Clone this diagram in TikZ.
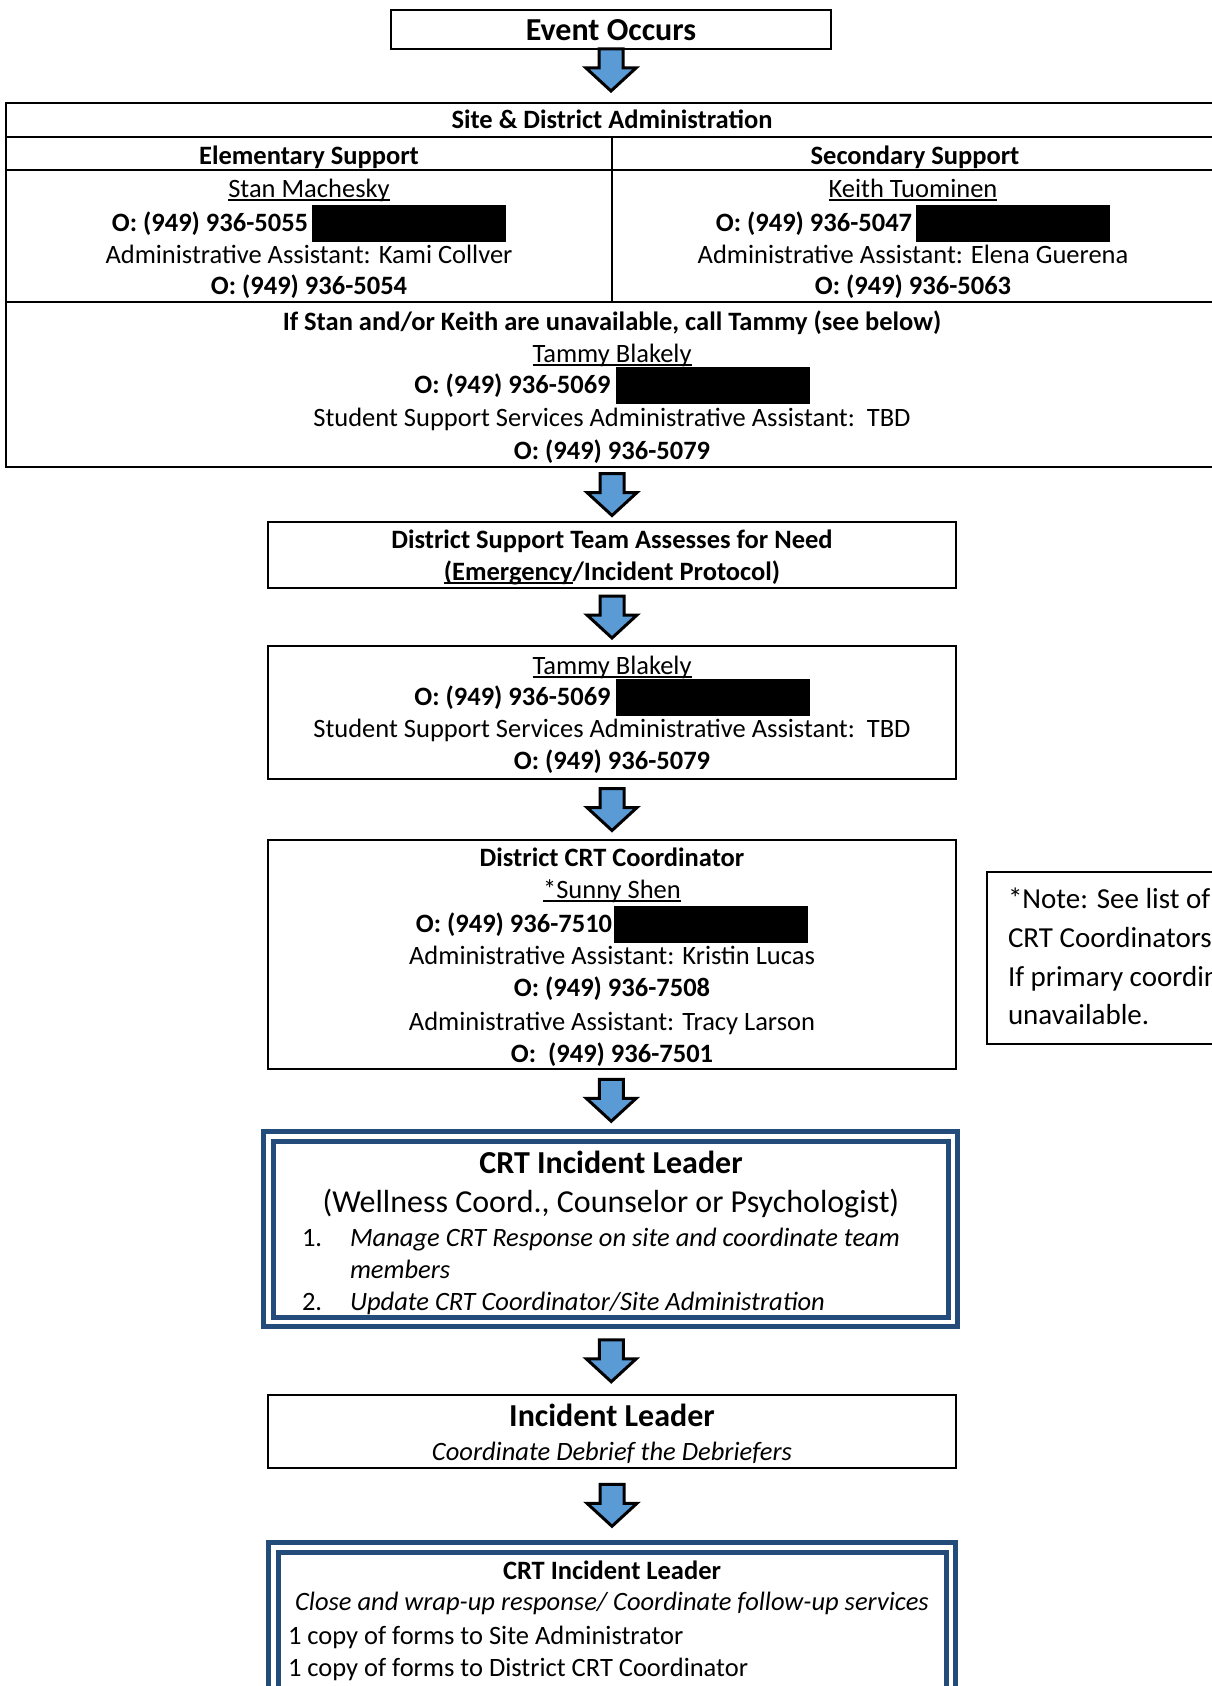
\documentclass[tikz,border=0pt]{standalone}
\usepackage{fontspec}
\setmainfont{Carlito}
\usetikzlibrary{calc}
\definecolor{arrowblue}{RGB}{91,155,213}
\definecolor{frameblue}{RGB}{36,76,122}
% underline that cuts through descenders, Word style
\newcommand\uln[1]{\setbox0\hbox{#1}\rlap{\rule[-3.5pt]{\wd0}{1.8pt}}\box0}
% black redaction bar after a phone number
\newcommand\redbar[1]{\hspace{#1}\rule[-11pt]{194pt}{37pt}}

\begin{document}
\begin{tikzpicture}[x=1pt,y=-1pt,
  every node/.style={inner sep=0pt, outer sep=0pt},
  txt/.style={anchor=base, font=\fontsize{26.5pt}{32pt}\selectfont},
  hd/.style={anchor=base, font=\fontsize{26.5pt}{32pt}\selectfont\bfseries},
  itx/.style={anchor=base, font=\fontsize{26.5pt}{32pt}\selectfont\itshape},
  notetxt/.style={anchor=base west, font=\fontsize{29pt}{35pt}\selectfont},
  big/.style={anchor=base, font=\fontsize{32pt}{38pt}\selectfont},
  bigb/.style={anchor=base, font=\fontsize{32pt}{38pt}\selectfont\bfseries},
  box/.style={draw, line width=2pt, minimum width=688pt, anchor=north},
  dblframe/.style={draw=frameblue, line width=5pt, anchor=north},
  innerframe/.style={frameblue, line width=5pt},
  blockarrow/.pic={
    \draw[fill=arrowblue, line width=3pt, line join=miter]
      (-12,0) -- (12,0) -- (12,19) -- (25,19) -- (0,42)
      -- (-25,19) -- (-12,19) -- cycle;}
]
\useasboundingbox (0,0) rectangle (1212,1686);
\clip (0,0) rectangle (1212,1686);

% ---------- top box ----------
\node[draw, line width=2pt, minimum width=440pt, minimum height=39pt, anchor=north]
  (event) at (611,10) {};
\node[bigb] at (611,41) {Event Occurs};

% ---------- site & district administration table ----------
\node[draw, line width=2pt, minimum width=1212pt, minimum height=364pt,
  anchor=north west] (sitetbl) at (6,103) {};
\draw[line width=2pt] (6,137) -- (1218,137);
\draw[line width=2pt] (6,170) -- (1218,170);
\draw[line width=2pt] (6,302) -- (1218,302);
\draw[line width=2pt] (612,137) -- (612,302);

\node[hd] at (612,128) {Site \& District Administration};
\node[hd] at (309,164) {Elementary Support};
\node[hd] at (915,164) {Secondary Support};

\node[txt] at (309,197) {\uln{Stan Machesky}};
\node[txt] at (309,231) {\textbf{O: (949) 936-5055}\redbar{4pt}};
\node[txt] at (309,263) {Administrative Assistant: Kami Collver};
\node[hd]  at (309,294) {O: (949) 936-5054};

\node[txt] at (913,197) {\uln{Keith Tuominen}};
\node[txt] at (913,231) {\textbf{O: (949) 936-5047}\redbar{4pt}};
\node[txt] at (913,263) {Administrative Assistant: Elena Guerena};
\node[hd]  at (913,294) {O: (949) 936-5063};

\node[hd]  at (612,330) {If Stan and/or Keith are unavailable, call Tammy (see below)};
\node[txt] at (612,362) {\uln{Tammy Blakely}};
\node[txt] at (612,393) {\textbf{O: (949) 936-5069}\redbar{5pt}};
\node[txt] at (612,426) {Student Support Services Administrative Assistant:\ \ TBD};
\node[hd]  at (612,459) {O: (949) 936-5079};

% ---------- district support team ----------
\node[box, minimum height=66pt] (assess) at (612,522) {};
\node[hd] at (612,548) {District Support Team Assesses for Need};
\node[hd] at (612,580) {\uln{(Emergency}/Incident Protocol)};

% ---------- tammy ----------
\node[box, minimum height=133pt] (tammy) at (612,646) {};
\node[txt] at (612,674) {\uln{Tammy Blakely}};
\node[txt] at (612,705) {\textbf{O: (949) 936-5069}\redbar{5pt}};
\node[txt] at (612,737) {Student Support Services Administrative Assistant:\ \ TBD};
\node[hd]  at (612,769) {O: (949) 936-5079};

% ---------- district CRT coordinator ----------
\node[box, minimum height=229pt] (coord) at (612,840) {};
\node[hd]  at (612,866) {District CRT Coordinator};
\node[txt] at (612,898) {\uln{*Sunny Shen}};
\node[txt] at (612,932) {\textbf{O: (949) 936-7510}\redbar{2pt}};
\node[txt] at (612,964) {Administrative Assistant: Kristin Lucas};
\node[hd]  at (612,996) {O: (949) 936-7508};
\node[txt] at (612,1030) {Administrative Assistant: Tracy Larson};
\node[hd]  at (612,1062) {O:\ \ (949) 936-7501};

% side note (runs off the right edge)
\node[draw, line width=2pt, minimum width=300pt, minimum height=172pt,
  anchor=north west] (note) at (987,872) {};
\node[notetxt] at (1008,908) {*Note: See list of};
\node[notetxt] at (1008,947) {CRT Coordinators};
\node[notetxt] at (1008,986) {If primary coordinator is};
\node[notetxt] at (1008,1024) {unavailable.};

% ---------- CRT incident leader ----------
\node[dblframe, minimum width=694pt, minimum height=195pt] (crtlead) at (610.5,1131.5) {};
\draw[innerframe]
  ([xshift=9.5pt,yshift=-9.5pt]crtlead.north west) rectangle
  ([xshift=-9.5pt,yshift=9.5pt]crtlead.south east);
\node[bigb] at (611,1173) {CRT Incident Leader};
\node[big]  at (611,1212) {(Wellness Coord., Counselor or Psychologist)};
\node[txt, anchor=base west] at (302,1246) {1.};
\node[itx, anchor=base west] at (350,1246) {Manage CRT Response on site and coordinate team};
\node[itx, anchor=base west] at (350,1278) {members};
\node[txt, anchor=base west] at (302,1310) {2.};
\node[itx, anchor=base west] at (350,1310) {Update CRT Coordinator/Site Administration};

% ---------- incident leader ----------
\node[box, minimum height=73pt] (ilead) at (612,1395) {};
\node[bigb] at (612,1426) {Incident Leader};
\node[itx]  at (612,1460) {Coordinate Debrief the Debriefers};

% ---------- closing CRT incident leader (runs off the bottom edge) ----------
\node[dblframe, minimum width=687pt, minimum height=200pt] (close) at (612,1542.5) {};
\draw[innerframe]
  ([xshift=9.5pt,yshift=-9.5pt]close.north west) rectangle
  ([xshift=-9.5pt,yshift=9.5pt]close.south east);
\node[hd]  at (612,1579) {CRT Incident Leader};
\node[itx] at (612,1610) {Close and wrap-up response/ Coordinate follow-up services};
\node[txt, anchor=base west] at (288,1644) {1 copy of forms to Site Administrator};
\node[txt, anchor=base west] at (288,1676) {1 copy of forms to District CRT Coordinator};

% ---------- flow arrows ----------
\pic at (event.south) {blockarrow};
\pic at ($(sitetbl.south)!0.5!(assess.north)+(0,-21)$) {blockarrow};
\pic at ($(assess.south)!0.5!(tammy.north)+(0,-21)$) {blockarrow};
\pic at ($(tammy.south)!0.5!(coord.north)+(0,-21)$) {blockarrow};
\pic at ($(coord.south)!0.5!(crtlead.north)+(0,-21)$) {blockarrow};
\pic at ($(crtlead.south)!0.5!(ilead.north)+(0,-21)$) {blockarrow};
\pic at ($(ilead.south)!0.5!(close.north)+(0,-21)$) {blockarrow};
\end{tikzpicture}
\end{document}
